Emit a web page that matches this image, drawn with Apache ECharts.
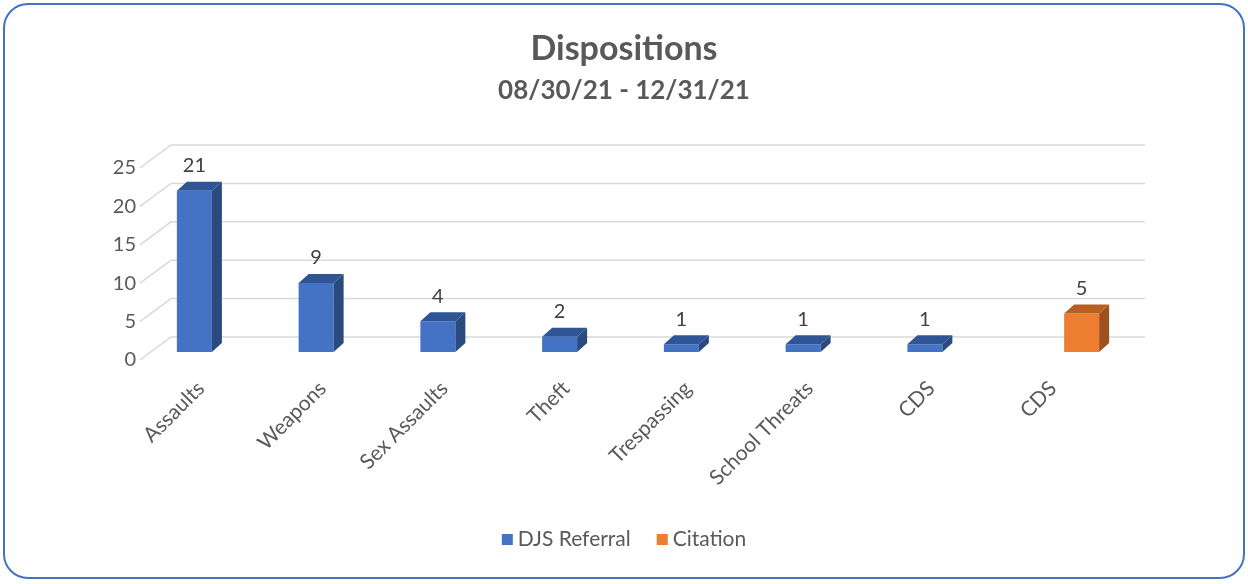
<!DOCTYPE html>
<html>
<head>
<meta charset="utf-8">
<script src="https://cdn.jsdelivr.net/npm/echarts@6/dist/echarts.min.js"></script>
<style>
  html, body { margin: 0; padding: 0; background: #fff; }
  #main { width: 1248px; height: 584px; }
</style>
</head>
<body>
<div id="main"></div>
<script>
// data
var categories = ['Assaults', 'Weapons', 'Sex Assaults', 'Theft', 'Trespassing', 'School Threats', 'CDS', 'CDS'];
var djsReferral = [21, 9, 4, 2, 1, 1, 1, null];
var citation = [null, null, null, null, null, null, null, 5];
var yTicks = [0, 5, 10, 15, 20, 25];

var FONT = 'Lato';
var WALL_DX = 31, WALL_DY = -23;   // back wall offset from front plane
var BAR_DX = 11, BAR_DY = -8;      // bar front face offset from front plane
var DEPTH_DX = 10, DEPTH_DY = -9;  // bar depth
var BAR_W = 35;

var chart = echarts.init(document.getElementById('main'));

function gridRender(params, api) {
  var cs = params.coordSys;
  var y = api.coord([0, api.value(1)])[1];
  var x0 = cs.x;
  var x1 = cs.x + cs.width;
  return {
    type: 'polyline',
    shape: { points: [[x0, y], [x0 + WALL_DX, y + WALL_DY], [x1 + WALL_DX, y + WALL_DY]] },
    style: { stroke: '#d9d9d9', lineWidth: 1.5, fill: null },
    silent: true
  };
}

function makeBarRender(side, front, sideCol, topCol) {
  return function (params, api) {
    var v = api.value(1);
    if (v == null || isNaN(v)) return null;
    var top = api.coord([api.value(0), v]);
    var base = api.coord([api.value(0), 0]);
    var cx = top[0] + BAR_DX + side * BAR_W / 2;
    var xl = cx - BAR_W / 2, xr = cx + BAR_W / 2;
    var yt = top[1] + BAR_DY, yb = base[1] + BAR_DY;
    return {
      type: 'group',
      children: [
        { type: 'rect', shape: { x: xl, y: yt, width: BAR_W, height: yb - yt }, style: { fill: front } },
        { type: 'polygon', shape: { points: [[xr, yt], [xr + DEPTH_DX, yt + DEPTH_DY], [xr + DEPTH_DX, yb + DEPTH_DY], [xr, yb]] }, style: { fill: sideCol } },
        { type: 'polygon', shape: { points: [[xl, yt], [xr, yt], [xr + DEPTH_DX, yt + DEPTH_DY], [xl + DEPTH_DX, yt + DEPTH_DY]] }, style: { fill: topCol } },
        { type: 'text', style: { text: String(v), x: cx, y: yt - 25, align: 'center', verticalAlign: 'middle', fill: '#404040', font: '20px ' + FONT } }
      ]
    };
  };
}

function toPairs(arr) {
  return arr.map(function (v, i) { return [i, v == null ? '-' : v]; });
}

var option = {
  backgroundColor: '#fff',
  animation: false,
  title: {
    text: 'Dispositions',
    subtext: '08/30/21 - 12/31/21',
    left: 'center',
    top: 27,
    itemGap: 12,
    textStyle: { fontFamily: FONT, fontSize: 34, fontWeight: 'bold', color: '#595959' },
    subtextStyle: { fontFamily: FONT, fontSize: 26, fontWeight: 'bold', color: '#595959' }
  },
  legend: {
    bottom: 29,
    left: 'center',
    icon: 'rect',
    itemWidth: 11,
    itemHeight: 11,
    itemGap: 26,
    textStyle: { fontFamily: FONT, fontSize: 21, color: '#595959' },
    data: ['DJS Referral', 'Citation']
  },
  grid: { left: 140, right: 134, top: 168, bottom: 224, containLabel: false },
  xAxis: {
    type: 'category',
    data: categories,
    axisLine: { show: false },
    axisTick: { show: false },
    axisLabel: { interval: 0, rotate: 45, margin: 25, fontFamily: FONT, fontSize: 21, color: '#595959' }
  },
  yAxis: {
    type: 'value',
    min: 0,
    max: 25,
    interval: 5,
    axisLine: { show: false },
    axisTick: { show: false },
    splitLine: { show: false },
    axisLabel: { margin: 4, fontFamily: FONT, fontSize: 20, color: '#595959' }
  },
  graphic: [{
    type: 'rect',
    shape: { x: 4, y: 4, width: 1240, height: 574, r: 24 },
    style: { fill: null, stroke: '#4472C4', lineWidth: 2 },
    silent: true
  }],
  series: [
    {
      type: 'custom',
      name: 'grid',
      silent: true,
      z: 1,
      renderItem: gridRender,
      data: yTicks.map(function (t) { return [0, t]; })
    },
    {
      type: 'custom',
      name: 'DJS Referral',
      z: 2,
      itemStyle: { color: '#4472C4' },
      renderItem: makeBarRender(-1, '#4472C4', '#2B4A80', '#2F5597'),
      data: toPairs(djsReferral)
    },
    {
      type: 'custom',
      name: 'Citation',
      z: 2,
      itemStyle: { color: '#ED7D31' },
      renderItem: makeBarRender(1, '#ED7D31', '#9E501E', '#B85F22'),
      data: toPairs(citation)
    }
  ]
};

chart.setOption(option);
window.addEventListener('resize', function () { chart.resize(); });
</script>
</body>
</html>
